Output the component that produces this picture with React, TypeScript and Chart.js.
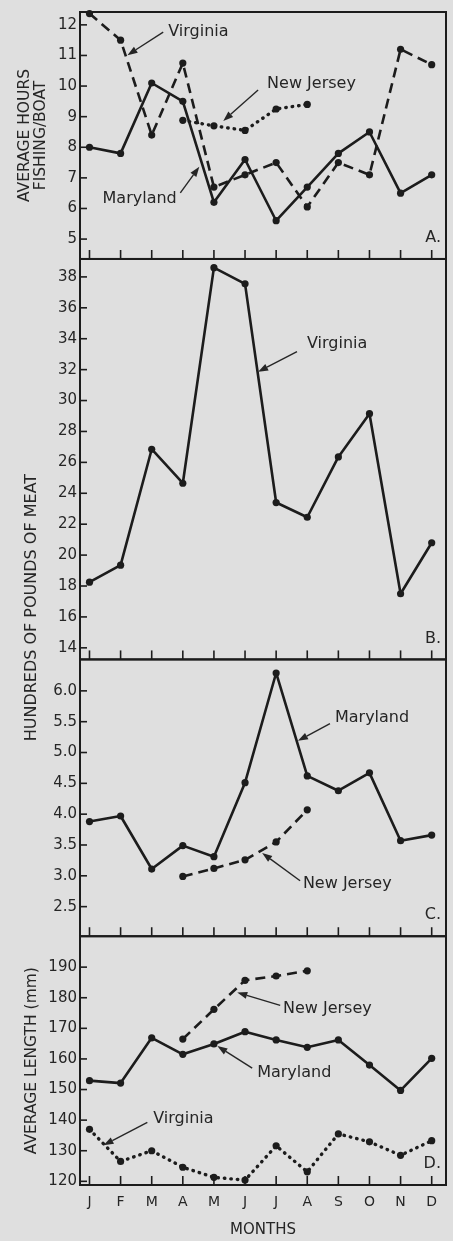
import React, { useEffect, useRef } from 'react';
import { Chart, registerables } from 'chart.js';

Chart.register(...registerables);

// ---------- data ----------
const MONTHS = ['J', 'F', 'M', 'A', 'M', 'J', 'J', 'A', 'S', 'O', 'N', 'D'];
const MONTH_INDEX = [0, 1, 2, 3, 4, 5, 6, 7, 8, 9, 10, 11];

// A. average hours fishing per boat
const hoursMaryland = [8.0, 7.8, 10.1, 9.5, 6.2, 7.6, 5.6, 6.7, 7.8, 8.5, 6.5, 7.1];
const hoursVirginia = [12.37, 11.5, 8.4, 10.75, 6.7, 7.1, 7.5, 6.05, 7.5, 7.1, 11.2, 10.7];
const hoursNewJersey = [null, null, null, 8.88, 8.7, 8.55, 9.25, 9.4, null, null, null, null];
const hoursTicks = [5, 6, 7, 8, 9, 10, 11, 12];

// B. hundreds of pounds of meat, Virginia
const meatVirginia = [18.25, 19.35, 26.85, 24.65, 38.6, 37.55, 23.4, 22.45, 26.35, 29.15, 17.5, 20.8];
const meatVaTicks = [14, 16, 18, 20, 22, 24, 26, 28, 30, 32, 34, 36, 38];

// C. hundreds of pounds of meat, Maryland & New Jersey
const meatMaryland = [3.88, 3.97, 3.11, 3.49, 3.31, 4.51, 6.29, 4.62, 4.38, 4.67, 3.57, 3.66];
const meatNewJersey = [null, null, null, 2.99, 3.12, 3.26, 3.55, 4.07, null, null, null, null];
const meatMdTicks = [2.5, 3.0, 3.5, 4.0, 4.5, 5.0, 5.5, 6.0];

// D. average length (mm)
const lengthMaryland = [152.9, 152.1, 166.9, 161.5, 164.9, 168.9, 166.2, 163.8, 166.2, 158.0, 149.7, 160.2];
const lengthNewJersey = [null, null, null, 166.5, 176.2, 185.7, 187.1, 188.8, null, null, null, null];
const lengthVirginia = [137.0, 126.5, 130.0, 124.6, 121.3, 120.4, 131.6, 123.1, 135.5, 132.9, 128.5, 133.3];
const lengthTicks = [120, 130, 140, 150, 160, 170, 180, 190];

// ---------- styles ----------
const FONT = '"DejaVu Sans", "Liberation Sans", sans-serif';
const INK = '#1c1c1c';
const TEXT = '#262626';
const PAPER = '#dfdfdf';

type Ann = { axis: string; text: string; tx: number; ty: number; x1: number; y1: number; x2: number; y2: number };
// label + arrow positions in data units of each panel
const ANNOTATIONS: Ann[] = [
  { axis: 'yA', text: 'Virginia', tx: 2.53, ty: 11.76, x1: 2.37, y1: 11.76, x2: 1.22, y2: 11.01 },
  { axis: 'yA', text: 'New Jersey', tx: 5.71, ty: 10.06, x1: 5.42, y1: 9.87, x2: 4.3, y2: 8.86 },
  { axis: 'yA', text: 'Maryland', tx: 0.42, ty: 6.32, x1: 2.92, y1: 6.51, x2: 3.53, y2: 7.36 },
  { axis: 'yB', text: 'Virginia', tx: 6.99, ty: 33.67, x1: 6.67, y1: 33.16, x2: 5.42, y2: 31.86 },
  { axis: 'yC', text: 'Maryland', tx: 7.89, ty: 5.56, x1: 7.73, y1: 5.47, x2: 6.7, y2: 5.19 },
  { axis: 'yC', text: 'New Jersey', tx: 6.86, ty: 2.87, x1: 6.77, y1: 2.92, x2: 5.55, y2: 3.37 },
  { axis: 'yD', text: 'New Jersey', tx: 6.22, ty: 176.5, x1: 6.13, y1: 177.5, x2: 4.75, y2: 181.7 },
  { axis: 'yD', text: 'Maryland', tx: 5.39, ty: 155.3, x1: 5.23, y1: 157.0, x2: 4.11, y2: 164.2 },
  { axis: 'yD', text: 'Virginia', tx: 2.05, ty: 140.3, x1: 1.86, y1: 139.3, x2: 0.45, y2: 131.8 },
];
const PANEL_LETTERS: Record<string, string> = { yA: 'A.', yB: 'B.', yC: 'C.', yD: 'D.' };
const PANEL_AXES = ['yA', 'yB', 'yC', 'yD'];

const pts = (arr: (number | null)[]) =>
  MONTH_INDEX.map((x, i) => ({ x, y: arr[i] })).filter((p) => p.y !== null) as { x: number; y: number }[];

const SOLID: number[] = [];
const DASHED = [10, 6];
const DOTTED = [0.5, 6];

const series = (data: (number | null)[], axis: string, dash: number[]) => ({
  data: pts(data),
  yAxisID: axis,
  xAxisID: 'x',
  borderColor: INK,
  backgroundColor: INK,
  borderWidth: dash === DOTTED ? 3.4 : 2.6,
  borderDash: dash,
  borderCapStyle: dash === DOTTED ? 'round' : 'butt',
  borderJoinStyle: 'round',
  pointRadius: 3.6,
  pointBorderWidth: 0,
  pointBackgroundColor: INK,
  tension: 0,
  clip: false,
});

const yScale = (
  min: number,
  max: number,
  ticks: number[],
  weight: number,
  stackWeight: number,
  decimals: number,
  title?: any
) => ({
  type: 'linear',
  position: 'left',
  stack: 'panels',
  stackWeight,
  weight,
  min,
  max,
  grid: { display: false, drawTicks: false },
  border: { display: false },
  ticks: {
    padding: 3,
    color: TEXT,
    autoSkip: false,
    font: { family: FONT, size: 15 },
    callback: (v: number) => v.toFixed(decimals),
  },
  afterBuildTicks: (s: any) => {
    s.ticks = ticks.map((v) => ({ value: v }));
  },
  afterFit: (s: any) => {
    s.width = 80;
  },
  title: title || { display: false },
});

const framePlugin = {
  id: 'frameAndMarks',
  beforeDraw(chart: any) {
    const { ctx, width, height } = chart;
    ctx.save();
    ctx.fillStyle = PAPER;
    ctx.fillRect(0, 0, width, height);
    ctx.restore();
  },
  beforeDatasetsDraw(chart: any) {
    const { ctx, chartArea, scales } = chart;
    const xs = scales.x;
    ctx.save();
    ctx.strokeStyle = INK;
    for (const id of PANEL_AXES) {
      const s = scales[id];
      ctx.lineWidth = 2;
      ctx.strokeRect(chartArea.left, s.top, chartArea.right - chartArea.left, s.bottom - s.top);
      // inward y tick marks
      ctx.lineWidth = 1.6;
      for (const t of s.ticks) {
        const y = s.getPixelForValue(t.value);
        ctx.beginPath();
        ctx.moveTo(chartArea.left, y);
        ctx.lineTo(chartArea.left + 7, y);
        ctx.stroke();
      }
      // inward month tick marks
      for (const m of MONTH_INDEX) {
        const x = xs.getPixelForValue(m);
        ctx.beginPath();
        ctx.moveTo(x, s.bottom);
        ctx.lineTo(x, s.bottom - 9);
        ctx.stroke();
      }
    }
    ctx.restore();
  },
  afterDatasetsDraw(chart: any) {
    const { ctx, chartArea, scales } = chart;
    const xs = scales.x;
    ctx.save();
    ctx.font = `16px ${FONT}`;
    ctx.fillStyle = TEXT;
    ctx.strokeStyle = TEXT;
    ctx.textBaseline = 'middle';
    for (const a of ANNOTATIONS) {
      const ys = scales[a.axis];
      ctx.textAlign = 'left';
      ctx.fillText(a.text, xs.getPixelForValue(a.tx), ys.getPixelForValue(a.ty));
      const x1 = xs.getPixelForValue(a.x1);
      const y1 = ys.getPixelForValue(a.y1);
      const x2 = xs.getPixelForValue(a.x2);
      const y2 = ys.getPixelForValue(a.y2);
      const ang = Math.atan2(y2 - y1, x2 - x1);
      const hl = 10;
      const hw = 3.6;
      const bx = x2 - hl * Math.cos(ang);
      const by = y2 - hl * Math.sin(ang);
      ctx.lineWidth = 1.4;
      ctx.beginPath();
      ctx.moveTo(x1, y1);
      ctx.lineTo(bx, by);
      ctx.stroke();
      ctx.beginPath();
      ctx.moveTo(x2, y2);
      ctx.lineTo(bx + hw * Math.sin(ang), by - hw * Math.cos(ang));
      ctx.lineTo(bx - hw * Math.sin(ang), by + hw * Math.cos(ang));
      ctx.closePath();
      ctx.fill();
    }
    // panel letters
    ctx.textAlign = 'right';
    for (const id of PANEL_AXES) {
      const s = scales[id];
      ctx.fillText(PANEL_LETTERS[id], chartArea.right - 5, s.bottom - 21);
    }
    // shared axis title for panels B and C
    const yb = scales.yB;
    const yc = scales.yC;
    ctx.translate(32, (yb.top + yc.bottom) / 2 + 10);
    ctx.rotate(-Math.PI / 2);
    ctx.textAlign = 'center';
    ctx.font = `16px ${FONT}`;
    ctx.fillText('HUNDREDS OF POUNDS OF MEAT', 0, 0);
    ctx.restore();
  },
};

export default function App() {
  const ref = useRef<HTMLCanvasElement | null>(null);

  useEffect(() => {
    if (!ref.current) return;
    const chart = new Chart(ref.current, {
      type: 'line',
      data: {
        datasets: [
          series(hoursMaryland, 'yA', SOLID),
          series(hoursVirginia, 'yA', DASHED),
          series(hoursNewJersey, 'yA', DOTTED),
          series(meatVirginia, 'yB', SOLID),
          series(meatMaryland, 'yC', SOLID),
          series(meatNewJersey, 'yC', DASHED),
          series(lengthMaryland, 'yD', SOLID),
          series(lengthNewJersey, 'yD', DASHED),
          series(lengthVirginia, 'yD', DOTTED),
        ] as any,
      },
      options: {
        responsive: false,
        animation: false,
        layout: { padding: { top: 9.5, right: 7, bottom: 0, left: 0 } },
        plugins: { legend: { display: false }, tooltip: { enabled: false } },
        scales: {
          x: {
            type: 'linear',
            position: 'bottom',
            min: -0.305,
            max: 11.46,
            grid: { display: false, drawTicks: false },
            border: { display: false },
            ticks: {
              padding: 9,
              color: TEXT,
              autoSkip: false,
              maxRotation: 0,
              font: { family: FONT, size: 14 },
              callback: (v: number) => MONTHS[v] ?? '',
            },
            afterBuildTicks: (s: any) => {
              s.ticks = MONTH_INDEX.map((v) => ({ value: v }));
            },
            afterFit: (s: any) => {
              s.height = 56;
            },
            title: {
              display: true,
              text: 'MONTHS',
              color: TEXT,
              font: { family: FONT, size: 15 },
              padding: { top: 2, bottom: 2 },
            },
          },
          yA: yScale(4.35, 12.42, hoursTicks, 4, 247.5, 0, {
            display: true,
            text: ['AVERAGE HOURS', 'FISHING/BOAT'],
            color: TEXT,
            font: { family: FONT, size: 15.5, lineHeight: 1.07 },
            padding: { top: 16.5, bottom: 0 },
          }),
          yB: yScale(13.25, 39.16, meatVaTicks, 3, 401.3, 0),
          yC: yScale(2.02, 6.51, meatMdTicks, 2, 277.4, 1),
          yD: yScale(118.8, 200.1, lengthTicks, 1, 249.3, 0, {
            display: true,
            text: 'AVERAGE LENGTH (mm)',
            color: TEXT,
            font: { family: FONT, size: 15.5, lineHeight: 1.07 },
            padding: { top: 24, bottom: 0 },
          }),
        } as any,
      },
      plugins: [framePlugin],
    });
    return () => chart.destroy();
  }, []);

  return (
    <div style={{ position: 'absolute', left: 0, top: 0, width: 453, height: 1241, background: PAPER }}>
      <canvas ref={ref} width={453} height={1241} style={{ display: 'block', width: 453, height: 1241 }} />
    </div>
  );
}
